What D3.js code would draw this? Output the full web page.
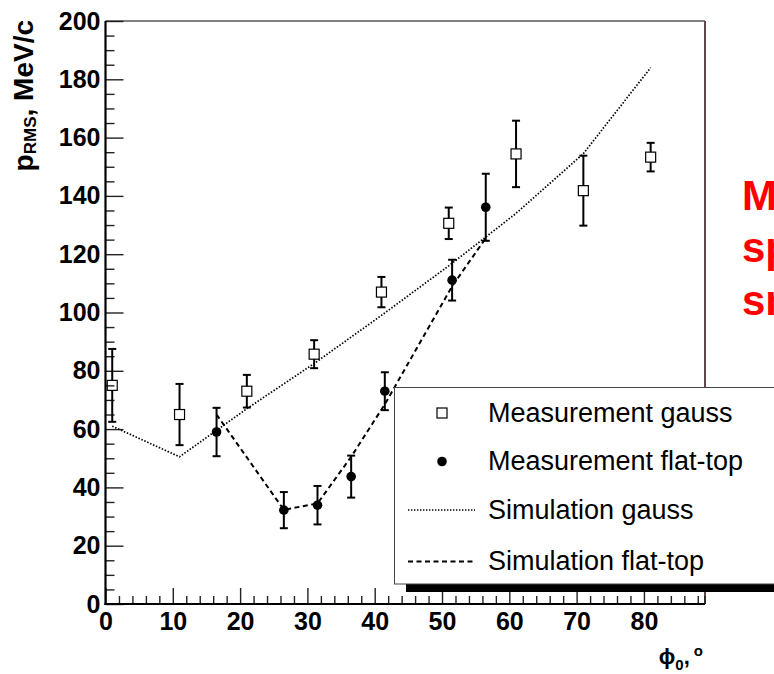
<!DOCTYPE html>
<html>
<head>
<meta charset="utf-8">
<script src="https://cdn.jsdelivr.net/npm/d3@7"></script>
<style>
  html, body { margin: 0; padding: 0; background: #fff; }
  svg { display: block; font-family: "Liberation Sans", Arial, Helvetica, sans-serif; }
</style>
</head>
<body>
<svg id="chart" width="774" height="674"></svg>
<script>
// ---- data ----
const gaussX   = [1, 11, 21, 31, 41, 51, 61, 71, 81];
const gaussY   = [75, 65, 73, 85.7, 107, 130.6, 154.4, 141.8, 153.3];
const gaussErr = [12.5, 10.5, 5.6, 4.8, 5.2, 5.4, 11.4, 12, 4.9];

const flatX   = [16.5, 26.5, 31.5, 36.5, 41.5, 51.5, 56.5];
const flatY   = [59, 32.2, 33.9, 43.7, 73, 111.1, 136.1];
const flatErr = [8.3, 6.2, 6.6, 7.2, 6.5, 7, 11.5];

const simGaussX = [1, 11, 21, 31, 41, 51, 61, 71, 81];
const simGaussY = [61, 50.5, 67, 82.5, 99, 116, 134, 154.5, 184];

const simFlatX = [16.5, 26.5, 31.5, 36.5, 41.5, 51.5, 56.5];
const simFlatY = [65, 32.3, 34.5, 50.5, 68.5, 109, 125.5];

const xMajorTicks = [0, 10, 20, 30, 40, 50, 60, 70, 80];
const yMajorTicks = [0, 20, 40, 60, 80, 100, 120, 140, 160, 180, 200];

const legendLabels = ["Measurement gauss", "Measurement flat-top", "Simulation gauss", "Simulation flat-top"];
const sideNote = ["M", "sp", "sm"];

// ---- setup ----
const svg = d3.select("#chart");
const x = d3.scaleLinear().domain([0, 89]).range([105.5, 704.5]);
const y = d3.scaleLinear().domain([0, 200]).range([604, 21]);

const xMinor = d3.range(2, 89, 2).filter(v => v % 10 !== 0);
const yMinor = d3.range(5, 200, 5).filter(v => v % 20 !== 0);

// frame (top + right)
svg.append("line").attr("x1", x(0)).attr("x2", 705).attr("y1", y(200)).attr("y2", y(200))
  .attr("stroke", "#000").attr("stroke-width", 1.2);
svg.append("line").attr("x1", 705).attr("x2", 705).attr("y1", y(200)).attr("y2", y(0))
  .attr("stroke", "#5e4848").attr("stroke-width", 2);

// y axis
const yAxis = svg.append("g").attr("transform", `translate(${x(0)},0)`)
  .call(d3.axisLeft(y).tickValues(yMajorTicks).tickSize(-18).tickSizeOuter(0).tickPadding(5).tickFormat(d3.format("d")));
yAxis.select(".domain").remove();
yAxis.selectAll("line").attr("stroke", "#222").attr("stroke-width", 1.4);
yAxis.selectAll("text").attr("font-size", 25).attr("font-weight", "bold").attr("fill", "#000")
  .attr("font-family", "'Liberation Sans', Arial, sans-serif");
const yAxisMinor = svg.append("g").attr("transform", `translate(${x(0)},0)`)
  .call(d3.axisLeft(y).tickValues(yMinor).tickSize(-9).tickSizeOuter(0).tickFormat(""));
yAxisMinor.select(".domain").remove();
yAxisMinor.selectAll("line").attr("stroke", "#222").attr("stroke-width", 1.4);

// x axis
const xAxis = svg.append("g").attr("transform", `translate(0,${y(0)})`)
  .call(d3.axisBottom(x).tickValues(xMajorTicks).tickSize(-16).tickSizeOuter(0).tickPadding(8).tickFormat(d3.format("d")));
xAxis.select(".domain").remove();
xAxis.selectAll("line").attr("stroke", "#222").attr("stroke-width", 1.4);
xAxis.selectAll("text").attr("font-size", 25).attr("font-weight", "bold").attr("fill", "#000")
  .attr("font-family", "'Liberation Sans', Arial, sans-serif");
const xAxisMinor = svg.append("g").attr("transform", `translate(0,${y(0)})`)
  .call(d3.axisBottom(x).tickValues(xMinor).tickSize(-8).tickSizeOuter(0).tickFormat(""));
xAxisMinor.select(".domain").remove();
xAxisMinor.selectAll("line").attr("stroke", "#222").attr("stroke-width", 1.4);
svg.append("line").attr("x1", 705).attr("x2", 705).attr("y1", y(0)).attr("y2", y(0) - 8)
  .attr("stroke", "#222").attr("stroke-width", 1.4);

// axis lines
svg.append("line").attr("x1", x(0)).attr("x2", x(0)).attr("y1", y(200)).attr("y2", y(0) + 1)
  .attr("stroke", "#000").attr("stroke-width", 2.2);
svg.append("line").attr("x1", x(0) - 1).attr("x2", 705).attr("y1", y(0)).attr("y2", y(0))
  .attr("stroke", "#000").attr("stroke-width", 2.2);

// axis titles
svg.append("text").attr("transform", "translate(33,20) rotate(-90)")
  .attr("text-anchor", "end").attr("font-size", 28).attr("font-weight", "bold")
  .html('p<tspan font-size="17" dy="3">RMS</tspan><tspan dy="-3">, MeV/c</tspan>');
svg.append("text").attr("x", 703).attr("y", 664)
  .attr("text-anchor", "end").attr("font-size", 22).attr("font-weight", "bold")
  .html('ϕ<tspan font-size="15" dy="6">0</tspan><tspan dy="-6">,</tspan><tspan font-size="15" dy="-8" dx="4">o</tspan>');

// simulation lines
const line = d3.line().x(d => x(d[0])).y(d => y(d[1]));
svg.append("path").datum(d3.zip(simGaussX, simGaussY)).attr("d", line)
  .attr("fill", "none").attr("stroke", "#000").attr("stroke-width", 1.7).attr("stroke-dasharray", "1.5 1.7");
svg.append("path").datum(d3.zip(simFlatX, simFlatY)).attr("d", line)
  .attr("fill", "none").attr("stroke", "#000").attr("stroke-width", 2).attr("stroke-dasharray", "5 3.5");

// error bars
function errorBars(xs, ys, es, gap) {
  const g = svg.append("g").attr("stroke", "#000").attr("stroke-width", 2);
  xs.forEach((xv, i) => {
    const cx = x(xv), cy = y(ys[i]), yt = y(ys[i] + es[i]), yb = y(ys[i] - es[i]);
    g.append("line").attr("x1", cx).attr("x2", cx).attr("y1", yt).attr("y2", cy - gap);
    g.append("line").attr("x1", cx).attr("x2", cx).attr("y1", cy + gap).attr("y2", yb);
    g.append("line").attr("x1", cx - 4).attr("x2", cx + 4).attr("y1", yt).attr("y2", yt);
    g.append("line").attr("x1", cx - 4).attr("x2", cx + 4).attr("y1", yb).attr("y2", yb);
  });
}
errorBars(gaussX, gaussY, gaussErr, 5);
errorBars(flatX, flatY, flatErr, 4);

// markers
svg.append("g").selectAll("rect").data(d3.zip(gaussX, gaussY)).join("rect")
  .attr("x", d => x(d[0]) - 5).attr("y", d => y(d[1]) - 5).attr("width", 10).attr("height", 10)
  .attr("fill", "none").attr("stroke", "#000").attr("stroke-width", 1.2);
svg.append("g").selectAll("circle").data(d3.zip(flatX, flatY)).join("circle")
  .attr("cx", d => x(d[0])).attr("cy", d => y(d[1])).attr("r", 4.8).attr("fill", "#000");

// legend
const lg = svg.append("g");
lg.append("rect").attr("x", 406).attr("y", 395).attr("width", 420).attr("height", 197).attr("fill", "#000");
lg.append("rect").attr("x", 394.5).attr("y", 387.5).attr("width", 420).attr("height", 196.5)
  .attr("fill", "#fff").attr("stroke", "#444").attr("stroke-width", 1);
const rowY = [413, 461.5, 510, 561.5];
lg.append("rect").attr("x", 437).attr("y", rowY[0] - 5).attr("width", 10).attr("height", 10)
  .attr("fill", "none").attr("stroke", "#000").attr("stroke-width", 1.2);
lg.append("circle").attr("cx", 442).attr("cy", rowY[1]).attr("r", 4.8).attr("fill", "#000");
lg.append("line").attr("x1", 408).attr("x2", 475).attr("y1", rowY[2]).attr("y2", rowY[2])
  .attr("stroke", "#000").attr("stroke-width", 1.6).attr("stroke-dasharray", "1.4 1.6");
lg.append("line").attr("x1", 408).attr("x2", 475).attr("y1", rowY[3]).attr("y2", rowY[3])
  .attr("stroke", "#000").attr("stroke-width", 2).attr("stroke-dasharray", "5 3.5");
lg.selectAll("text").data(legendLabels).join("text")
  .attr("x", 488).attr("y", (d, i) => rowY[i] + 8.5)
  .attr("font-size", 27).attr("fill", "#000").text(d => d);

// side note (red, cut off by the page edge as in the original)
svg.append("g").selectAll("text").data(sideNote).join("text")
  .attr("x", 742).attr("y", (d, i) => [210, 262, 315][i])
  .attr("font-size", 42).attr("font-weight", "bold").attr("fill", "#ff0000").text(d => d);
</script>
</body>
</html>
